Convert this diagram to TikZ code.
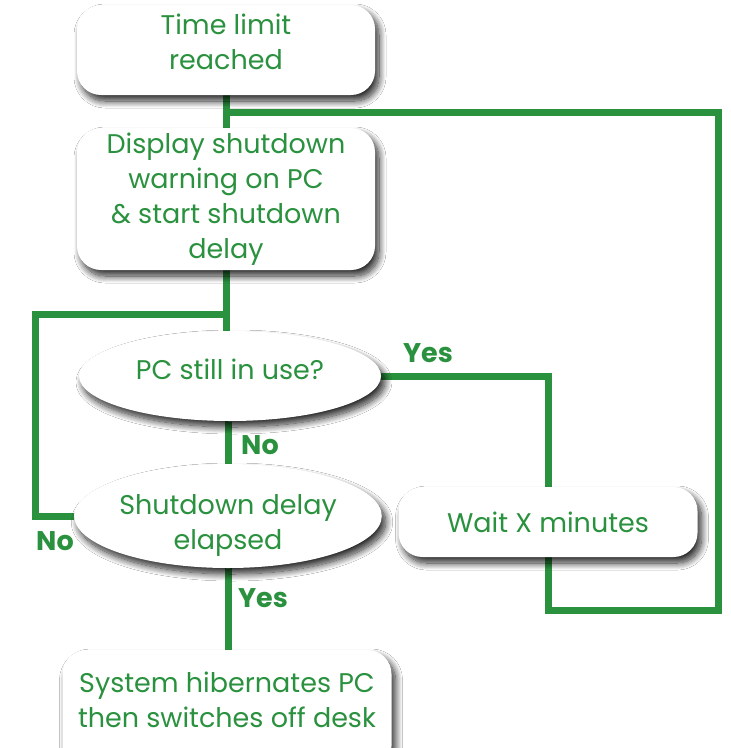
\documentclass[tikz,border=0pt]{standalone}
\usepackage{fontspec}
\setmainfont{Poppins}
\usetikzlibrary{shapes.geometric,shadows.blur,backgrounds}
\definecolor{flowgreen}{RGB}{42,145,62}
\tikzset{
  shade/.style={blur shadow={shadow xshift=4pt,shadow yshift=-6pt,shadow blur radius=7pt,shadow blur steps=14,shadow opacity=85}},
  box/.style={shade,fill=white,rounded corners=24pt,align=center,text=flowgreen,
    font=\fontsize{27}{35}\selectfont,inner sep=0pt},
  oval/.style={shade,ellipse,fill=white,align=center,text=flowgreen,
    font=\fontsize{27}{35}\selectfont,inner sep=0pt},
  answer/.style={text=flowgreen,font=\fontsize{27}{32}\selectfont\bfseries},
  link/.style={flowgreen,line width=7pt}
}
\begin{document}
\begin{tikzpicture}[x=1pt,y=-1pt]
      \useasboundingbox (0,0) rectangle (731,748);
      \node[box,minimum width=298,minimum height=90] (limit) at (226,50) {Time limit\\reached\\[-18pt]};
      \node[box,minimum width=298,minimum height=142] (warning) at (226,199) {Display shutdown\\warning on PC\\\& start shutdown\\delay};
      \node[oval,minimum width=302,minimum height=90] (use) at (230,376) {PC still in use?\\[-22pt]};
      \node[oval,minimum width=300,minimum height=104] (elapsed) at (228,516) {Shutdown delay\\elapsed\\[-48pt]};
      \node[box,minimum width=299,minimum height=70] (wait) at (548,522) {Wait X minutes};
      \node[box,minimum width=329,minimum height=120] (hibernate) at (227,710) {System hibernates PC\\then switches off desk\\[-14pt]};
      \node[answer] (yes1) at (428,353) {Yes};
      \node[answer] (no1) at (260,445) {No};
      \node[answer] (no2) at (55,541) {No};
      \node[answer] (yes2) at (263,598) {Yes};
      \coordinate (top) at (226,112);
      \coordinate (loop) at (718,610);
      \coordinate (mid) at (226,314);
      \coordinate (left) at (35,314);
      \begin{scope}[on background layer]
        \fill[white] (0,0) rectangle (731,748);
        \begin{scope}[link]
          \draw (limit.south) -- (warning.north);
          \draw (warning.south) -- (use.north -| warning.south);
          \draw (use.south -| elapsed.north) -- (elapsed.north);
          \draw (elapsed.south) -- (hibernate.north -| elapsed.south);
          \draw (top) -| (loop) -| (wait.south);
          \draw (use.east) -| (wait.north);
          \draw (mid) -- (left) |- (elapsed.west);
        \end{scope}
      \end{scope}
    \end{tikzpicture}
\end{document}
